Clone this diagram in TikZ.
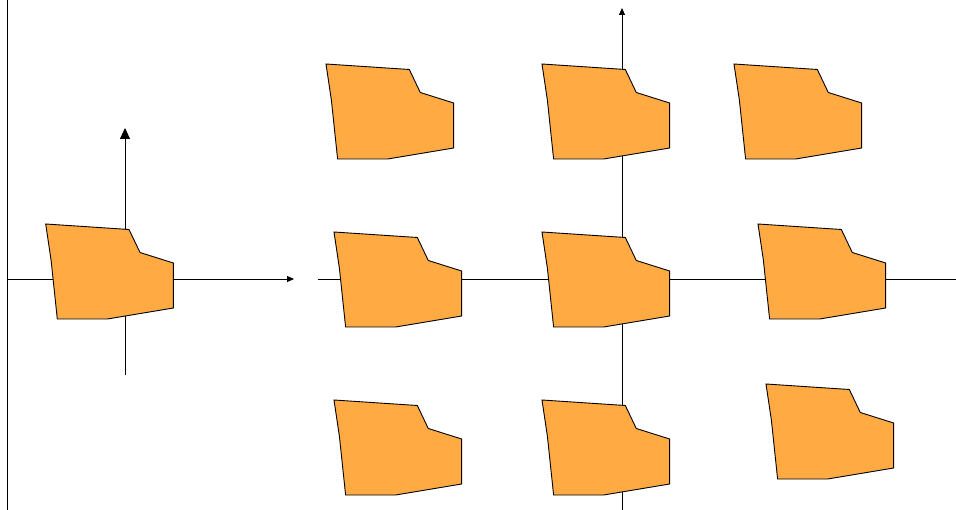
\documentclass[tikz,border=0pt]{standalone}
\usepackage{tikz}
\usetikzlibrary{arrows.meta}

\definecolor{blockorange}{HTML}{FFAA42}

\tikzset{
  axis/.style={line width=0.9pt, black},
  block/.style={fill=blockorange, draw=black, line width=0.9pt, line join=miter},
  pics/block/.style={code={
      \draw[block] (0,0) -- (83.3,5.5) -- (94.3,28.5) -- (127.6,39) -- (127.6,84)
        -- (61.6,95) -- (11.6,95) -- (5.4,36.3) -- cycle;
  }}
}

\begin{document}
\begin{tikzpicture}[x=1pt,y=-1pt]
        \useasboundingbox (0,0) rectangle (956,510);

        % left frame
        \coordinate (lTop) at (7,0);
        \coordinate (lBot) at (7,510);
        \draw[axis] (lTop) -- (lBot);

        % left axes
        \coordinate (xaStart) at (7,279);
        \coordinate (xaEnd) at (294,279);
        \coordinate (yaStart) at (125,375);
        \coordinate (yaEnd) at (125,128);
        \draw[axis, -{Triangle[length=7pt,width=6pt]}] (xaStart) -- (xaEnd);
        \draw[axis, -{Triangle[length=11pt,width=10pt]}] (yaStart) -- (yaEnd);

        % right axes
        \coordinate (xbStart) at (318,279);
        \coordinate (xbEnd) at (956,279);
        \coordinate (ybStart) at (622,510);
        \coordinate (ybEnd) at (622,8);
        \draw[axis] (xbStart) -- (xbEnd);
        \draw[axis, -{Triangle[length=7pt,width=6pt]}] (ybStart) -- (ybEnd);

        % blocks
        \pic at (45.7,224) {block};
        \foreach \x/\y in {326/64, 542/64, 734/64,
                           334/232, 542/232, 758/224,
                           334/400, 542/400, 766/384}
          \pic at (\x,\y) {block};
      \end{tikzpicture}
\end{document}
